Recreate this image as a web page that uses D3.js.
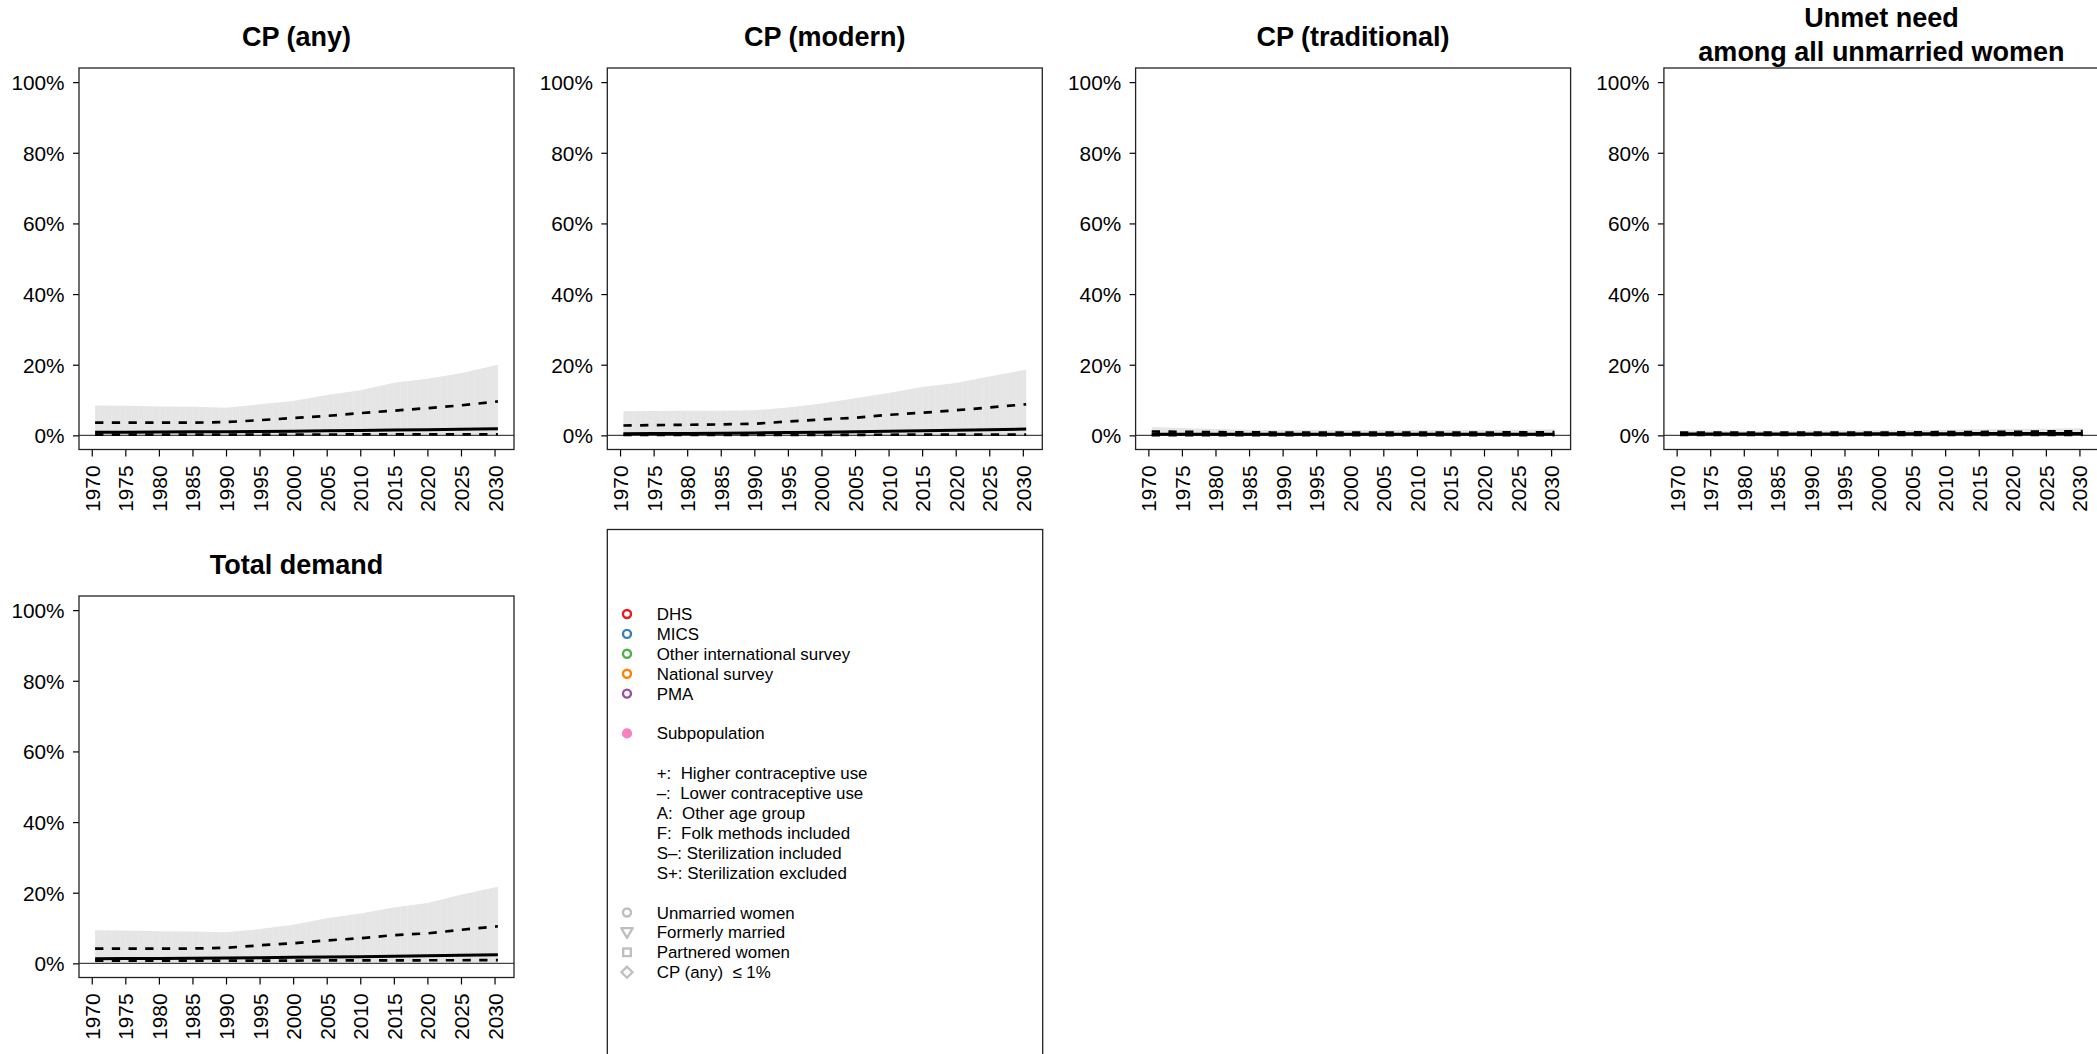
<!DOCTYPE html>
<html><head><meta charset="utf-8">
<script src="https://cdn.jsdelivr.net/npm/d3@7"></script>
<style>
body{margin:0;background:#fff;overflow:hidden}
text{font-family:"Liberation Sans",Arial,Helvetica,sans-serif;fill:#000}
</style>
</head><body><svg id="c" width="2097" height="1054"></svg>
<script>
// ---------- data ----------
const years = [1970.5, 1975, 1980, 1985, 1990, 1995, 2000, 2005, 2010, 2015, 2020, 2025, 2030.5];
const xTickValues = [1970, 1975, 1980, 1985, 1990, 1995, 2000, 2005, 2010, 2015, 2020, 2025, 2030];
const yTickValues = [0, 20, 40, 60, 80, 100];
const panelTitles = ["CP (any)", "CP (modern)", "CP (traditional)", "Unmet need\namong all unmarried women", "Total demand"];

// CP (any)
const anyBandLow  = [0.05,0.05,0.05,0.05,0.05,0.05,0.05,0.05,0.05,0.05,0.05,0.05,0.05];
const anyBandHigh = [8.45,8.4,8.2,8.1,7.8,8.8,9.7,11.4,12.8,14.9,16.0,17.6,20.0];
const anyDashLow  = [0.2,0.2,0.2,0.2,0.2,0.22,0.24,0.25,0.26,0.28,0.3,0.3,0.32];
const anyDashHigh = [3.6,3.6,3.6,3.6,3.75,4.3,4.9,5.5,6.3,7.0,7.7,8.5,9.6];
const anyMedian   = [0.85,0.9,0.95,1.0,1.05,1.1,1.2,1.3,1.4,1.5,1.6,1.75,1.9];

// CP (modern)
const modBandLow  = [0.03,0.03,0.03,0.03,0.03,0.03,0.03,0.03,0.03,0.03,0.03,0.03,0.03];
const modBandHigh = [6.8,6.9,7.0,7.0,7.1,7.9,9.0,10.5,12.0,13.7,14.8,16.7,18.6];
const modDashLow  = [0.1,0.1,0.1,0.12,0.12,0.14,0.15,0.16,0.18,0.2,0.2,0.22,0.24];
const modDashHigh = [2.8,2.9,3.0,3.1,3.3,3.9,4.5,5.0,5.8,6.4,7.1,7.9,8.8];
const modMedian   = [0.45,0.5,0.55,0.6,0.7,0.8,0.9,1.0,1.15,1.3,1.45,1.6,1.8];

// CP (traditional)
const tradBandLow  = [0.0,0.0,0.0,0.0,0.0,0.0,0.0,0.0,0.0,0.0,0.0,0.0,0.0];
const tradBandHigh = [2.4,2.1,1.8,1.6,1.5,1.5,1.5,1.5,1.5,1.5,1.5,1.6,1.7];
const tradDashLow  = [0.05,0.05,0.05,0.05,0.05,0.05,0.05,0.05,0.05,0.05,0.05,0.05,0.05];
const tradDashHigh = [1.1,1.0,0.9,0.85,0.8,0.8,0.8,0.8,0.8,0.8,0.8,0.85,0.9];
const tradMedian   = [0.35,0.3,0.3,0.3,0.3,0.3,0.3,0.3,0.3,0.3,0.3,0.3,0.3];

// Unmet need among all unmarried women
const unmetBandLow  = [0.1,0.1,0.1,0.1,0.1,0.1,0.1,0.1,0.1,0.1,0.1,0.1,0.1];
const unmetBandHigh = [1.3,1.3,1.3,1.3,1.35,1.4,1.45,1.5,1.6,1.7,1.8,1.9,2.0];
const unmetDashLow  = [0.15,0.15,0.15,0.15,0.15,0.15,0.15,0.15,0.15,0.15,0.15,0.15,0.15];
const unmetDashHigh = [0.75,0.75,0.75,0.75,0.75,0.8,0.8,0.85,0.9,0.95,1.0,1.1,1.2];
const unmetMedian   = [0.4,0.4,0.4,0.4,0.4,0.42,0.44,0.46,0.48,0.5,0.52,0.54,0.55];

// Total demand
const tdBandLow  = [0.2,0.2,0.2,0.2,0.2,0.2,0.2,0.2,0.2,0.2,0.2,0.2,0.2];
const tdBandHigh = [9.4,9.3,9.1,9.0,8.8,9.7,10.9,12.8,14.1,15.8,17.1,19.4,21.7];
const tdDashLow  = [0.75,0.75,0.75,0.76,0.77,0.78,0.8,0.82,0.84,0.86,0.88,0.89,0.9];
const tdDashHigh = [4.2,4.2,4.2,4.2,4.4,5.1,5.7,6.5,7.1,8.0,8.5,9.5,10.5];
const tdMedian   = [1.3,1.35,1.4,1.45,1.5,1.6,1.7,1.8,1.9,2.0,2.15,2.3,2.45];

// Legend
const legendLabels = ["DHS","MICS","Other international survey","National survey","PMA","",
  "Subpopulation","",
  "+:  Higher contraceptive use","\u2013:  Lower contraceptive use","A:  Other age group",
  "F:  Folk methods included","S\u2013: Sterilization included","S+: Sterilization excluded","",
  "Unmarried women","Formerly married","Partnered women","CP (any)  \u2264 1%"];
const legendSymbols = ["circle","circle","circle","circle","circle",null,"dot",null,
  null,null,null,null,null,null,null,"circle","triangle","square","diamond"];
const legendColors = ["#E41A1C","#377EB8","#4DAF4A","#FF7F00","#984EA3",null,"#F781BF",null,
  null,null,null,null,null,null,null,"#BEBEBE","#BEBEBE","#BEBEBE","#BEBEBE"];

// ---------- layout ----------
const svg = d3.select("#c");
const W = 435, H = 381.5;
const colX = [79, 607.3, 1135.6, 1663.9];
const rowY = [68, 596];
const FONT = '"Liberation Sans",Arial,Helvetica,sans-serif';

const panels = [
  {title: panelTitles[0], col:0, row:0, bl:anyBandLow, bh:anyBandHigh, dl:anyDashLow, dh:anyDashHigh, md:anyMedian},
  {title: panelTitles[1], col:1, row:0, bl:modBandLow, bh:modBandHigh, dl:modDashLow, dh:modDashHigh, md:modMedian},
  {title: panelTitles[2], col:2, row:0, bl:tradBandLow, bh:tradBandHigh, dl:tradDashLow, dh:tradDashHigh, md:tradMedian},
  {title: panelTitles[3], col:3, row:0, bl:unmetBandLow, bh:unmetBandHigh, dl:unmetDashLow, dh:unmetDashHigh, md:unmetMedian},
  {title: panelTitles[4], col:0, row:1, bl:tdBandLow, bh:tdBandHigh, dl:tdDashLow, dh:tdDashHigh, md:tdMedian}
];

const x = d3.scaleLinear().domain([1968.1, 2032.9]).range([0, W]);
const y = d3.scaleLinear().domain([-4, 104]).range([H, 0]);

panels.forEach((p, i) => {
  const g = svg.append("g").attr("transform", `translate(${colX[p.col]},${rowY[p.row]})`);
  const rows = years.map((yr, k) => ({yr, bl:p.bl[k], bh:p.bh[k], dl:p.dl[k], dh:p.dh[k], md:p.md[k]}));

  const boxClip = "box" + i;
  g.append("clipPath").attr("id", boxClip).append("rect").attr("width", W).attr("height", H);
  const inner = g.append("g").attr("clip-path", `url(#${boxClip})`);

  const area = d3.area().x(d => x(d.yr)).y0(d => y(d.bl)).y1(d => y(d.bh));
  inner.append("path").datum(rows).attr("d", area).attr("fill", "#E5E5E5");

  const bandClip = "band" + i;
  g.append("clipPath").attr("id", bandClip).append("path").datum(rows).attr("d", area);
  inner.append("g").attr("clip-path", `url(#${bandClip})`)
    .selectAll("line").data(d3.range(1971, 2031)).join("line")
    .attr("x1", d => x(d)).attr("x2", d => x(d))
    .attr("y1", y(104)).attr("y2", y(-4))
    .attr("stroke", "#EBEBEB").attr("stroke-width", 0.6);

  inner.append("line").attr("x1", 0).attr("x2", W).attr("y1", y(0)).attr("y2", y(0))
    .attr("stroke", "#444").attr("stroke-width", 1.2);

  const line = key => d3.line().x(d => x(d.yr)).y(d => y(d[key]));
  inner.append("path").datum(rows).attr("d", line("dl")).attr("fill", "none")
    .attr("stroke", "#000").attr("stroke-width", 2.7).attr("stroke-dasharray", "8.3,8.4");
  inner.append("path").datum(rows).attr("d", line("dh")).attr("fill", "none")
    .attr("stroke", "#000").attr("stroke-width", 2.7).attr("stroke-dasharray", "8.3,8.4");
  inner.append("path").datum(rows).attr("d", line("md")).attr("fill", "none")
    .attr("stroke", "#000").attr("stroke-width", 3);

  const ya = g.append("g").call(d3.axisLeft(y).tickValues(yTickValues).tickFormat(d => d + "%").tickSize(6).tickPadding(8.4));
  ya.select(".domain").remove();
  ya.selectAll("line").attr("stroke", "#000").attr("stroke-width", 1.2);
  ya.selectAll("text").attr("font-size", 20.8).attr("font-family", FONT).attr("fill", "#111").attr("dy", "0.36em");

  const xa = g.append("g").attr("transform", `translate(0,${H})`)
    .call(d3.axisBottom(x).tickValues(xTickValues).tickFormat(d3.format("d")).tickSize(7));
  xa.select(".domain").remove();
  xa.selectAll("line").attr("stroke", "#000").attr("stroke-width", 1.2);
  xa.selectAll("text").attr("font-size", 20.8).attr("font-family", FONT).attr("fill", "#111")
    .attr("x", 0).attr("y", 0).attr("dy", "0.36em").attr("text-anchor", "end")
    .attr("transform", "translate(0,16) rotate(-90)");

  g.append("rect").attr("width", W).attr("height", H).attr("fill", "none")
    .attr("stroke", "#222").attr("stroke-width", 1.3);

  const lines = p.title.split("\n");
  const t = g.append("text").attr("x", W / 2).attr("text-anchor", "middle")
    .attr("font-size", 27).attr("font-weight", "bold").attr("font-family", FONT);
  if (lines.length === 1) {
    t.attr("y", -22.4).text(lines[0]);
  } else {
    t.attr("y", -40.7);
    lines.forEach((l, k) => t.append("tspan").attr("x", W / 2).attr("dy", k === 0 ? 0 : 33.7).text(l));
  }
});

// ---------- legend ----------
const lg = svg.append("g");
lg.append("rect").attr("x", 607.3).attr("y", 529.5).attr("width", 435.4).attr("height", 600)
  .attr("fill", "none").attr("stroke", "#222").attr("stroke-width", 1.3);
const legY0 = 614, legStep = 19.9, symX = 627, txtX = 656.7;
legendLabels.forEach((lab, k) => {
  const yy = legY0 + k * legStep;
  const s = legendSymbols[k], c = legendColors[k];
  if (s === "circle") {
    lg.append("circle").attr("cx", symX).attr("cy", yy).attr("r", 4).attr("fill", "none")
      .attr("stroke", c).attr("stroke-width", 2.4);
  } else if (s === "dot") {
    lg.append("circle").attr("cx", symX).attr("cy", yy).attr("r", 5.1).attr("fill", c);
  } else if (s === "triangle") {
    lg.append("path").attr("d", `M${symX-5.7},${yy-4.3} L${symX+5.7},${yy-4.3} L${symX},${yy+5.4} Z`)
      .attr("fill", "none").attr("stroke", c).attr("stroke-width", 2.3).attr("stroke-linejoin", "round");
  } else if (s === "square") {
    lg.append("rect").attr("x", symX - 3.8).attr("y", yy - 3.8).attr("width", 7.6).attr("height", 7.6)
      .attr("fill", "none").attr("stroke", c).attr("stroke-width", 2.3);
  } else if (s === "diamond") {
    lg.append("path").attr("d", `M${symX},${yy-5.5} L${symX+5.5},${yy} L${symX},${yy+5.5} L${symX-5.5},${yy} Z`)
      .attr("fill", "none").attr("stroke", c).attr("stroke-width", 2.3);
  }
  if (lab) {
    lg.append("text").attr("x", txtX).attr("y", yy).attr("dy", "0.36em")
      .attr("font-size", 16.9).attr("font-family", FONT).attr("fill", "#111")
      .style("white-space", "pre").text(lab);
  }
});
</script>
</body></html>
